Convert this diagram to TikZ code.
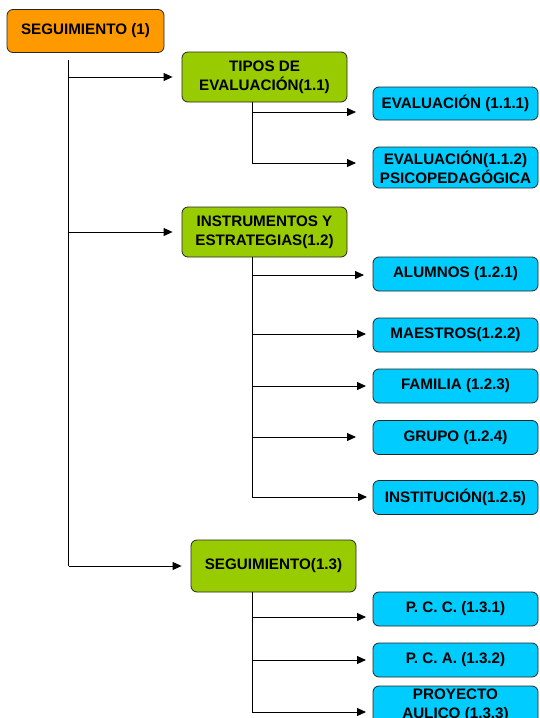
\documentclass[tikz,border=0pt]{standalone}
\usepackage{fontspec}
\setmainfont{Liberation Sans}
\usetikzlibrary{arrows.meta}
\definecolor{rootorange}{HTML}{FF9900}
\definecolor{midgreen}{HTML}{99CC00}
\definecolor{leafcyan}{HTML}{00CCFF}
\definecolor{boxline}{HTML}{262626}
\begin{document}
\begin{tikzpicture}[x=1pt,y=-1pt,
  box/.style={draw=boxline, line width=0.8pt, rounded corners=6pt, inner sep=0pt,
    align=center, text=black, font=\bfseries\fontsize{15.2}{19}\selectfont},
  rootbox/.style={box, fill=rootorange, minimum width=157pt, minimum height=43pt},
  midbox/.style={box, fill=midgreen, minimum width=165pt, minimum height=50pt},
  leafbox/.style={box, fill=leafcyan, minimum width=165pt, minimum height=34pt},
  link/.style={line width=0.9pt, draw=black},
  arr/.style={link, -{Triangle[length=9pt,width=8pt]}}]
\useasboundingbox (0,0) rectangle (540,718);
\clip (0,0) rectangle (540,718);

% level 1
\node[rootbox] (n1) at (85.5,31) {SEGUIMIENTO (1)};

% level 2
\node[midbox] (n11) at (264.5,77)  {TIPOS DE\\EVALUACIÓN(1.1)};
\node[midbox] (n12) at (264.5,232) {INSTRUMENTOS Y\\ESTRATEGIAS(1.2)};
\node[midbox, minimum height=52pt] (n13) at (273.5,566) {SEGUIMIENTO(1.3)};

% level 3
\node[leafbox, minimum height=33pt] (n111) at (455.5,103.5) {EVALUACIÓN (1.1.1)};
\node[leafbox, minimum height=41pt] (n112) at (455.5,167.5) {EVALUACIÓN(1.1.2)\\PSICOPEDAGÓGICA};
\node[leafbox] (n121) at (455.5,274)   {ALUMNOS (1.2.1)};
\node[leafbox] (n122) at (455.5,335)   {MAESTROS(1.2.2)};
\node[leafbox] (n123) at (455.5,386)   {FAMILIA (1.2.3)};
\node[leafbox] (n124) at (455.5,437.5) {GRUPO (1.2.4)};
\node[leafbox] (n125) at (455.5,497.5) {INSTITUCIÓN(1.2.5)};
\node[leafbox] (n131) at (455.5,609)   {P. C. C. (1.3.1)};
\node[leafbox] (n132) at (455.5,660)   {P. C. A. (1.3.2)};
\node[leafbox, minimum height=38pt] (n133) at (455.5,705) {PROYECTO\\AULICO (1.3.3)};

% trunk positions and arrow tips
\coordinate (r0) at (68.5,60);
\coordinate (tx) at (252,0);
\coordinate (e111) at (356,112);
\coordinate (e112) at (356,163);
\coordinate (e121) at (364,275);
\coordinate (e122) at (366,334);
\coordinate (e123) at (366,386);
\coordinate (e124) at (356,437);
\coordinate (e125) at (367,497);
\coordinate (e131) at (366,617);
\coordinate (e132) at (366,660);
\coordinate (e133) at (366,712);

% root branches
\draw[link] (r0) -- (r0 |- n13);
\foreach \c in {n11,n12,n13}
  \draw[arr] (r0 |- \c) -- ([xshift=-9pt]\c.west);

% branch 1.1
\draw[link] (n11.south -| tx) -- (tx |- e112);
\foreach \e in {e111,e112}
  \draw[arr] (tx |- \e) -- (\e);

% branch 1.2
\draw[link] (n12.south -| tx) -- (tx |- e125);
\foreach \e in {e121,e122,e123,e124,e125}
  \draw[arr] (tx |- \e) -- (\e);

% branch 1.3
\draw[link] (n13.south -| tx) -- (tx |- e133);
\foreach \e in {e131,e132,e133}
  \draw[arr] (tx |- \e) -- (\e);
\end{tikzpicture}
\end{document}
